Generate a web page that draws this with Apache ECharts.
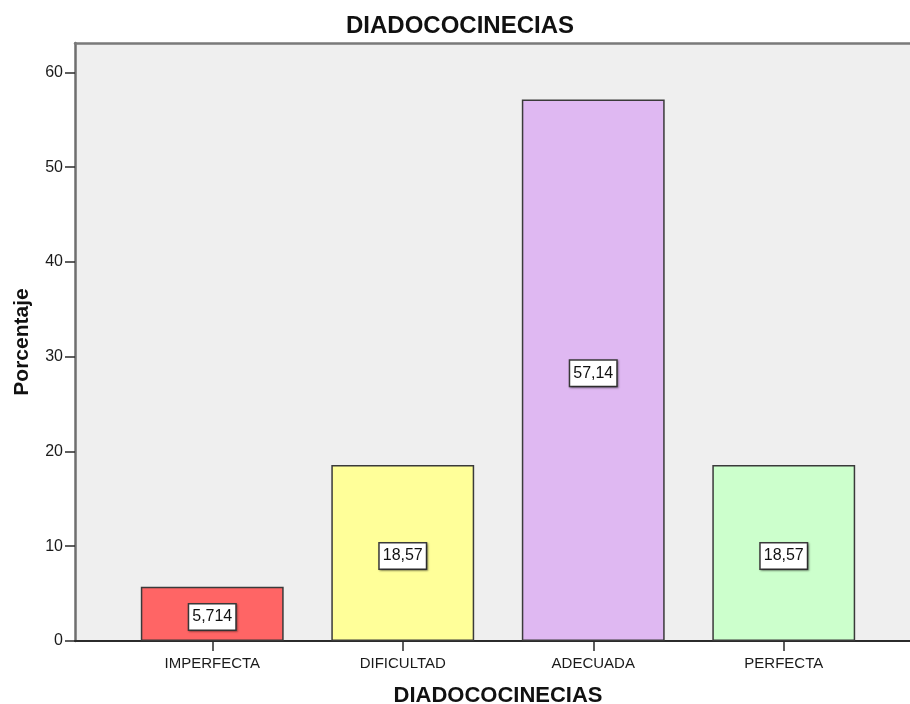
<!DOCTYPE html>
<html>
<head>
<meta charset="utf-8">
<title>DIADOCOCINECIAS</title>
<script src="https://cdn.jsdelivr.net/npm/echarts@6/dist/echarts.min.js"></script>
<style>
  html, body { margin: 0; padding: 0; background: #ffffff; }
  #chart { width: 910px; height: 704px; }
</style>
</head>
<body>
<div id="chart"></div>
<script>
// Categories and percentages
const categories = ['IMPERFECTA', 'DIFICULTAD', 'ADECUADA', 'PERFECTA'];
const percentages = [5.714, 18.57, 57.14, 18.57];
const yTickValues = [0, 10, 20, 30, 40, 50, 60];
const yMax = 63.1;

const barColors = ['#ff6565', '#ffff99', '#dfb8f2', '#ccffcc'];
const fontFamily = '"Liberation Sans", Arial, sans-serif';

const chart = echarts.init(document.getElementById('chart'), null, { renderer: 'canvas' });

chart.setOption({
  animation: false,
  backgroundColor: '#ffffff',
  title: {
    text: 'DIADOCOCINECIAS',
    left: 346,
    top: 14,
    padding: 0,
    textStyle: { fontFamily, fontSize: 24, fontWeight: 'bold', color: '#111111' }
  },
  grid: [
    // plot frame with grey background and the percentage axis
    { left: 75, right: 0, top: 43, bottom: 63, show: true, backgroundColor: '#efefef', borderWidth: 0, outerBoundsMode: 'none', containLabel: false },
    // band where the bars sit
    { left: 117, right: 31, top: 43, bottom: 63, outerBoundsMode: 'none', containLabel: false }
  ],
  xAxis: [
    {
      gridIndex: 0, type: 'value', position: 'bottom', min: 0, max: 1,
      axisLine: { show: true, lineStyle: { color: '#2b2b2b', width: 2 } },
      axisTick: { show: false }, axisLabel: { show: false }, splitLine: { show: false }
    },
    {
      gridIndex: 0, type: 'value', position: 'top', min: 0, max: 1,
      axisLine: { show: true, lineStyle: { color: '#7a7a7a', width: 2.5 } },
      axisTick: { show: false }, axisLabel: { show: false }, splitLine: { show: false }
    },
    {
      gridIndex: 1, type: 'category', data: categories, position: 'bottom',
      axisLine: { show: false },
      axisTick: { show: true, alignWithLabel: true, length: 10, lineStyle: { color: '#2b2b2b', width: 1.5 } },
      axisLabel: { fontFamily, fontSize: 15, color: '#1a1a1a', margin: 15 },
      name: 'DIADOCOCINECIAS',
      nameLocation: 'middle',
      nameGap: 44,
      nameTextStyle: { fontFamily, fontSize: 22, fontWeight: 'bold', color: '#111111' }
    }
  ],
  yAxis: [
    {
      gridIndex: 0, type: 'value', min: 0, max: yMax, interval: 10,
      axisLine: { show: true, lineStyle: { color: '#6e6e6e', width: 2.5 } },
      axisTick: { show: true, length: 10, customValues: yTickValues, lineStyle: { color: '#2b2b2b', width: 1.5 } },
      axisLabel: {
        fontFamily, fontSize: 16, color: '#1a1a1a', margin: 12,
        padding: [4, 0, 0, 0],
        customValues: yTickValues,
        formatter: v => (v % 10 === 0 ? String(v) : '')
      },
      splitLine: { show: false },
      name: 'Porcentaje',
      nameLocation: 'middle',
      nameGap: 42,
      nameRotate: 90,
      nameTextStyle: { fontFamily, fontSize: 21, fontWeight: 'bold', color: '#111111' }
    },
    {
      gridIndex: 1, type: 'value', min: 0, max: yMax, show: false
    }
  ],
  series: [
    {
      type: 'bar',
      xAxisIndex: 2,
      yAxisIndex: 1,
      barCategoryGap: '25%',
      data: percentages.map((v, i) => ({
        value: v,
        itemStyle: { color: barColors[i] }
      })),
      itemStyle: { borderColor: '#3a3a3a', borderWidth: 1.5 },
      label: {
        show: true,
        position: 'inside',
        offset: [0, 3],
        formatter: p => String(p.value).replace('.', ','),
        fontFamily, fontSize: 16, color: '#111111',
        backgroundColor: '#ffffff',
        borderColor: '#3a3a3a', borderWidth: 1.5,
        padding: [5, 3, 4, 3],
        shadowColor: 'rgba(0,0,0,0.35)', shadowBlur: 2, shadowOffsetX: 1, shadowOffsetY: 1
      },
      emphasis: { disabled: true }
    }
  ]
});
</script>
</body>
</html>
